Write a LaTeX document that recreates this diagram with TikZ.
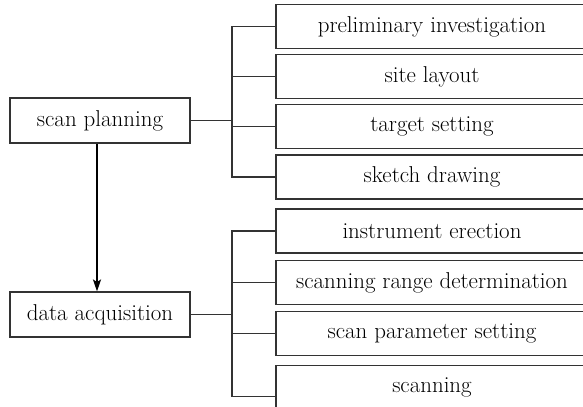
\documentclass[tikz,border=0pt]{standalone}
\usetikzlibrary{arrows.meta}
\begin{document}
\begin{tikzpicture}[x=0.75pt, y=-0.75pt,
    every node/.style={font=\fontsize{17.2}{20}\selectfont},
    mainbox/.style={draw=black!80, line width=0.8pt, minimum width=135pt, minimum height=33.75pt, inner sep=0pt},
    subbox/.style={draw=black!80, line width=0.8pt, minimum width=234pt, minimum height=33pt, inner sep=0pt},
    link/.style={draw=black!80, line width=0.8pt}]
    \useasboundingbox (0,0) rectangle (583,407);
    \clip (0,0) rectangle (583,407);

    % Main steps
    \node[mainbox] (sp) at (100,120.5) {scan planning};
    \node[mainbox] (da) at (100,314.5) {data acquisition};
    \draw[line width=1.5pt, -{Stealth[length=9pt, width=6pt, inset=2pt]}] ([xshift=-2.25pt]sp.south) -- ([xshift=-2.25pt]da.north);

    % Scan planning tasks
    \node[subbox] (pi) at (432,26.5) {preliminary investigation};
    \node[subbox] (sl) at (432,76.5) {site layout};
    \node[subbox] (ts) at (432,126.5) {target setting};
    \node[subbox] (sd) at (432,177) {sketch drawing};

    % Data acquisition tasks
    \node[subbox] (ie) at (432,231) {instrument erection};
    \node[subbox] (rd) at (432,282.5) {scanning range determination};
    \node[subbox] (ps) at (432,333.5) {scan parameter setting};
    \node[subbox] (sc) at (432,387.5) {scanning};

    % Brackets
    \coordinate (busA) at (232,121);
    \coordinate (busB) at (232,315);
    \coordinate (scin) at ([yshift=-6.4pt]sc.west);

    \draw[link] (sp.east) -- (sp.east -| busA);
    \draw[link] (pi.west) -- (pi.west -| busA) -- (sd.west -| busA) -- (sd.west);
    \draw[link] (sl.west) -- (sl.west -| busA);
    \draw[link] (ts.west) -- (ts.west -| busA);

    \draw[link] (da.east) -- (da.east -| busB);
    \draw[link] (ie.west) -- (ie.west -| busB) -- (scin -| busB) -- (scin);
    \draw[link] (rd.west) -- (rd.west -| busB);
    \draw[link] (ps.west) -- (ps.west -| busB);
\end{tikzpicture}
\end{document}
